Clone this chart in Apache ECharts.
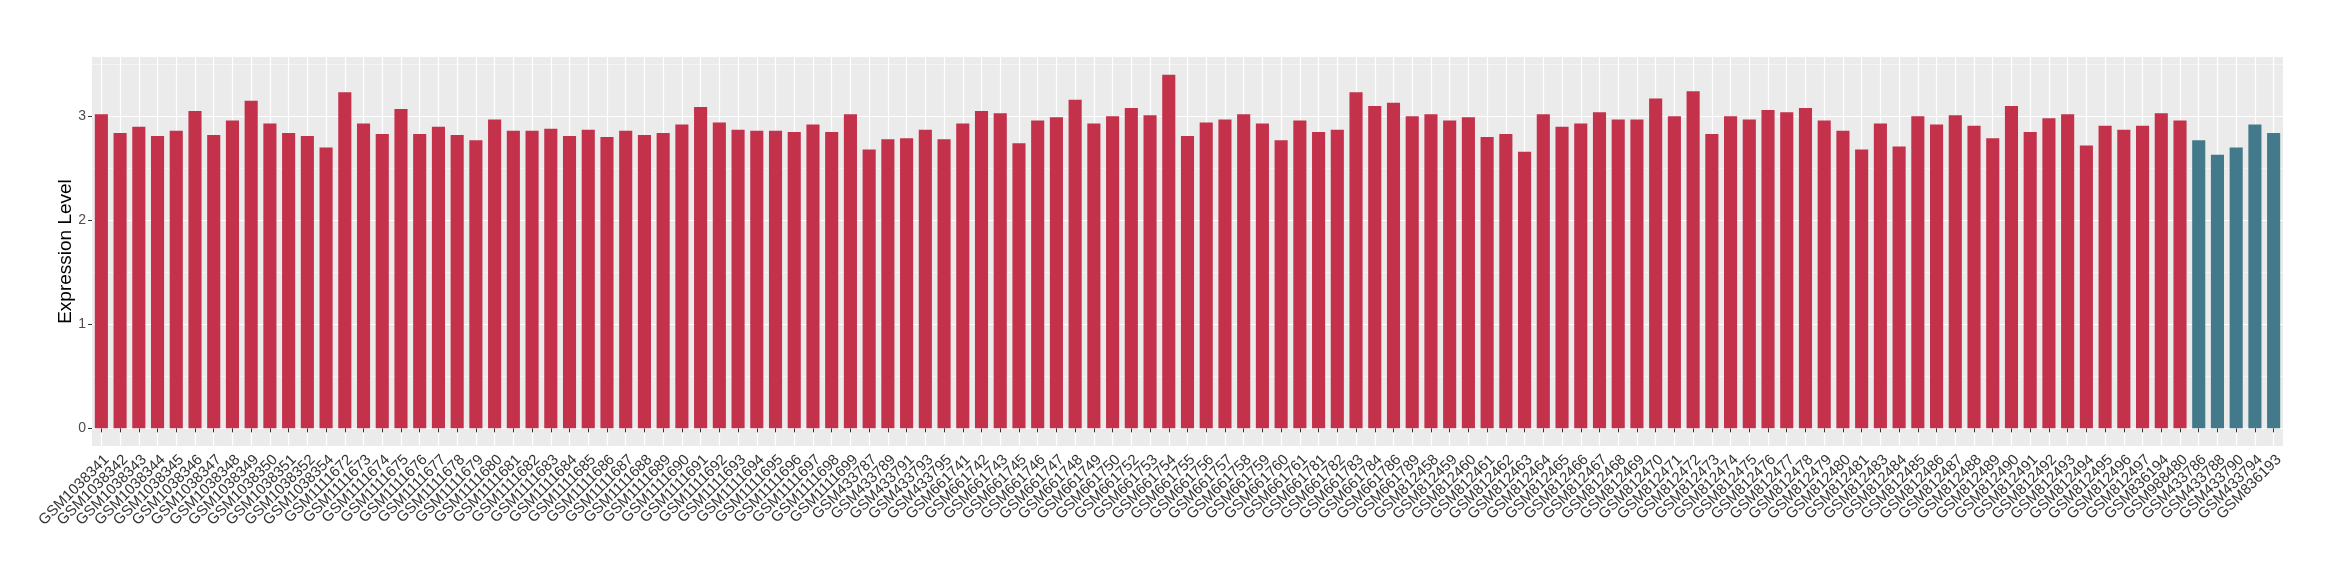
<!DOCTYPE html>
<html>
<head>
<meta charset="utf-8">
<script src="https://cdn.jsdelivr.net/npm/echarts@6.0.0/dist/echarts.min.js"></script>
<style>
  html, body { margin: 0; padding: 0; background: #fff; }
  #chart { width: 2340px; height: 580px; }
</style>
</head>
<body>
<div id="chart"></div>
<script>
var samples = [
  'GSM1038341','GSM1038342','GSM1038343','GSM1038344','GSM1038345','GSM1038346','GSM1038347','GSM1038348',
  'GSM1038349','GSM1038350','GSM1038351','GSM1038352','GSM1038354',
  'GSM1111672','GSM1111673','GSM1111674','GSM1111675','GSM1111676','GSM1111677','GSM1111678','GSM1111679',
  'GSM1111680','GSM1111681','GSM1111682','GSM1111683','GSM1111684','GSM1111685','GSM1111686','GSM1111687',
  'GSM1111688','GSM1111689','GSM1111690','GSM1111691','GSM1111692','GSM1111693','GSM1111694','GSM1111695',
  'GSM1111696','GSM1111697','GSM1111698','GSM1111699',
  'GSM433787','GSM433789','GSM433791','GSM433793','GSM433795',
  'GSM661741','GSM661742','GSM661743','GSM661745','GSM661746','GSM661747','GSM661748','GSM661749',
  'GSM661750','GSM661752','GSM661753','GSM661754','GSM661755','GSM661756','GSM661757','GSM661758',
  'GSM661759','GSM661760','GSM661761','GSM661781','GSM661782','GSM661783','GSM661784','GSM661786','GSM661789',
  'GSM812458','GSM812459','GSM812460','GSM812461','GSM812462','GSM812463','GSM812464','GSM812465',
  'GSM812466','GSM812467','GSM812468','GSM812469','GSM812470','GSM812471','GSM812472','GSM812473',
  'GSM812474','GSM812475','GSM812476','GSM812477','GSM812478','GSM812479','GSM812480','GSM812481',
  'GSM812483','GSM812484','GSM812485','GSM812486','GSM812487','GSM812488','GSM812489','GSM812490',
  'GSM812491','GSM812492','GSM812493','GSM812494','GSM812495','GSM812496','GSM812497',
  'GSM836194','GSM988480',
  'GSM433786','GSM433788','GSM433790','GSM433794','GSM836193'
];
var expression = [
  3.02,2.84,2.90,2.81,2.86,3.05,2.82,2.96,3.15,2.93,2.84,2.81,2.70,
  3.23,2.93,2.83,3.07,2.83,2.90,2.82,2.77,2.97,2.86,2.86,2.88,2.81,2.87,2.80,2.86,2.82,2.84,2.92,3.09,2.94,
  2.87,2.86,2.86,2.85,2.92,2.85,3.02,
  2.68,2.78,2.79,2.87,2.78,
  2.93,3.05,3.03,2.74,2.96,2.99,3.16,2.93,3.00,3.08,3.01,3.40,2.81,2.94,2.97,3.02,2.93,2.77,2.96,
  2.85,2.87,3.23,3.10,3.13,3.00,
  3.02,2.96,2.99,2.80,2.83,2.66,3.02,2.90,2.93,3.04,2.97,2.97,3.17,3.00,3.24,2.83,3.00,2.97,3.06,3.04,
  3.08,2.96,2.86,2.68,
  2.93,2.71,3.00,2.92,3.01,2.91,2.79,3.10,2.85,2.98,3.02,2.72,2.91,2.87,2.91,
  3.03,2.96,
  2.77,2.63,2.70,2.92,2.84
];
var controlSamples = ['GSM433786','GSM433788','GSM433790','GSM433794','GSM836193'];
var yTicks = [0, 1, 2, 3];
var yMinorTicks = [0.5, 1.5, 2.5, 3.5];

var caseColor = '#C3314A';
var controlColor = '#437A8B';
var textColor = '#4D4D4D';

var barData = expression.map(function (v, i) {
  return {
    value: v,
    itemStyle: { color: controlSamples.indexOf(samples[i]) >= 0 ? controlColor : caseColor }
  };
});

var myChart = echarts.init(document.getElementById('chart'));
var option = {
  backgroundColor: '#ffffff',
  animation: false,
  grid: {
    left: 92, right: 57, top: 57, bottom: 134,
    show: true, backgroundColor: '#EBEBEB', borderWidth: 0
  },
  xAxis: {
    type: 'category',
    data: samples,
    boundaryGap: true,
    axisLine: { show: false },
    axisTick: { show: true, alignWithLabel: true, length: 4, lineStyle: { color: '#333333', width: 1 } },
    axisLabel: {
      interval: 0, rotate: 45, margin: 6, verticalAlign: 'top',
      fontFamily: 'Liberation Sans', fontSize: 15, color: '#333333'
    },
    splitLine: { show: true, alignWithLabel: true, lineStyle: { color: '#ffffff', width: 1.2 } }
  },
  yAxis: [{
    type: 'value',
    min: -0.17,
    max: 3.57,
    name: 'Expression Level',
    nameLocation: 'middle',
    nameGap: 17,
    nameMoveOverlap: false,
    nameTextStyle: { fontFamily: 'Liberation Sans', fontSize: 19, color: '#000000' },
    axisLine: { show: false },
    axisTick: { show: true, length: 4, customValues: yTicks, lineStyle: { color: '#333333', width: 1 } },
    axisLabel: { customValues: yTicks, margin: 6, fontFamily: 'Liberation Sans', fontSize: 14, color: textColor },
    splitLine: { show: true, lineStyle: { color: '#ffffff', width: 1.2 } }
  }, {
    type: 'value',
    min: -0.17,
    max: 3.57,
    position: 'left',
    axisLine: { show: false },
    axisTick: { show: false, customValues: yMinorTicks },
    axisLabel: { show: false, customValues: yMinorTicks },
    splitLine: { show: true, lineStyle: { color: '#F6F6F6', width: 0.8 } }
  }],
  series: [{
    type: 'bar',
    yAxisIndex: 0,
    barWidth: '70%',
    data: barData
  }]
};
myChart.setOption(option);
</script>
</body>
</html>
